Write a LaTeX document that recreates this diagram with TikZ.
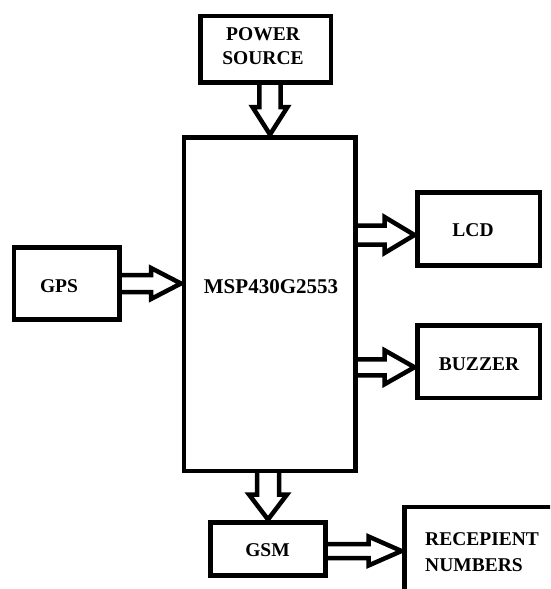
\documentclass[tikz,border=0pt]{standalone}
\usepackage{fontspec}
\setmainfont{Liberation Serif}
\usetikzlibrary{calc}
\tikzset{
  box/.style={draw, line width=4.5pt, inner sep=0pt, outer sep=0pt, rectangle},
  lbl/.style={font=\bfseries\fontsize{19.5}{24.5}\selectfont, inner sep=0pt, align=center},
  biglbl/.style={font=\bfseries\fontsize{21}{26}\selectfont, inner sep=0pt, align=center},
  barrowline/.style={draw, line width=4.5pt, line join=miter},
}
\newcommand\BlockArrow[5]{% start, end, shaft half-width, head half-width, head length
  \path ($(#2)!3pt!(#1)$) coordinate (ba-tip);
  \path ($(ba-tip)!#5!(#1)$) coordinate (ba-base);
  \draw[barrowline] ($(#1)!#3!90:(#2)$) -- ($(ba-base)!#3!90:(#2)$) -- ($(ba-base)!#4!90:(#2)$)
    -- (ba-tip) -- ($(ba-base)!#4!-90:(#2)$) -- ($(ba-base)!#3!-90:(#2)$) -- ($(#1)!#3!-90:(#2)$);
}
\begin{document}
\begin{tikzpicture}[x=1pt,y=-1pt]
  \useasboundingbox (0,0) rectangle (550,589);
  \clip (0,0) rectangle (550,589);
  % boxes
  \node[box, minimum width=130.5pt, minimum height=66.5pt] (pwr) at (265.75,49.25) {};
  \node[box, minimum width=171.5pt, minimum height=333.5pt] (main) at (269.75,304.25) {};
  \node[box, minimum width=105.5pt, minimum height=72pt] (gps) at (66.75,283.5) {};
  \node[box, minimum width=122.5pt, minimum height=73pt] (lcd) at (478.75,229) {};
  \node[box, minimum width=122.5pt, minimum height=72.5pt] (buz) at (478.75,361.75) {};
  \node[box, minimum width=115pt, minimum height=53pt] (gsm) at (268,549) {};
  \node[box, minimum width=215.5pt, minimum height=133pt] (rec) at (512.25,573.5) {};
  % labels
  \node[lbl] (pwrt) at (263,46) {POWER\\SOURCE};
  \node[biglbl] (mspt) at (271,286.5) {MSP430G2553};
  \node[lbl] (gpst) at (59,286.5) {GPS};
  \node[lbl] (lcdt) at (473,230) {LCD};
  \node[lbl] (buzt) at (479,364.5) {BUZZER};
  \node[lbl] (gsmt) at (267.5,550.5) {GSM};
  \node[lbl, align=left, font=\bfseries\fontsize{19.5}{26}\selectfont, anchor=west] (rect) at (425,552.5) {RECEPIENT\\NUMBERS};
  % arrow end points
  \coordinate (pA) at ([xshift=4.25pt]pwr.south);
  \coordinate (pB) at (pA |- main.north);
  \coordinate (gA) at (gps.east);
  \coordinate (gB) at (gA -| main.west);
  \coordinate (lB) at ([yshift=-6pt]lcd.west);
  \coordinate (lA) at (lB -| main.east);
  \coordinate (bB) at ([yshift=-5.5pt]buz.west);
  \coordinate (bA) at (bB -| main.east);
  \coordinate (sB) at (gsm.north);
  \coordinate (sA) at (sB |- main.south);
  \coordinate (rA) at ([yshift=-2pt]gsm.east);
  \coordinate (rB) at (rA -| rec.west);
  % block arrows
  \BlockArrow{pA}{pB}{10.7pt}{17.5pt}{27.5pt}
  \BlockArrow{gA}{gB}{8.5pt}{15.5pt}{30pt}
  \BlockArrow{lA}{lB}{9.5pt}{18pt}{30pt}
  \BlockArrow{bA}{bB}{8pt}{17pt}{30pt}
  \BlockArrow{sA}{sB}{11pt}{19pt}{25pt}
  \BlockArrow{rA}{rB}{7pt}{14.5pt}{33pt}
\end{tikzpicture}
\end{document}
